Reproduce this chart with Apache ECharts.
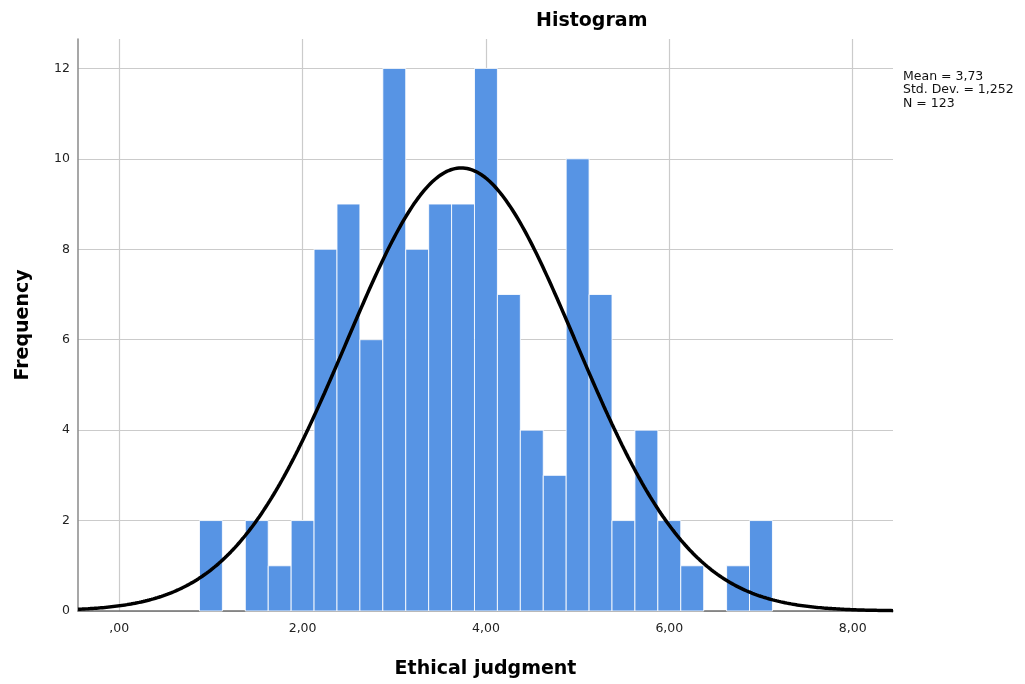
<!DOCTYPE html>
<html>
<head>
<meta charset="utf-8">
<script src="https://cdn.jsdelivr.net/npm/echarts@6/dist/echarts.min.js"></script>
<style>
html,body{margin:0;padding:0;background:#fff;}
#chart{width:1025px;height:684px;}
</style>
</head>
<body>
<div id="chart"></div>
<script>
// Bin centres (Ethical judgment), bin width 0.25
const binCenters = [1.00, 1.25, 1.50, 1.75, 2.00, 2.25, 2.50, 2.75, 3.00, 3.25, 3.50, 3.75, 4.00,
                    4.25, 4.50, 4.75, 5.00, 5.25, 5.50, 5.75, 6.00, 6.25, 6.50, 6.75, 7.00];
const frequencies = [2, 0, 2, 1, 2, 8, 9, 6, 12, 8, 9, 9, 12,
                     7, 4, 3, 10, 7, 2, 4, 2, 1, 0, 1, 2];
const binWidth = 0.25;
const xTicks = [0, 2, 4, 6, 8];
const yTicks = [0, 2, 4, 6, 8, 10, 12];
const statsLines = ['Mean = 3,73', 'Std. Dev. = 1,252', 'N = 123'];
const mean = 3.73;
const stdDev = 1.252;
const n = 123;

const X_MIN = -0.45, X_MAX = 8.44, Y_MAX = 12.65;

// Fitted normal curve (as drawn by the histogram: N * binWidth * density)
const curve = [];
for (let i = 0; i <= 400; i++) {
  const x = X_MIN + (X_MAX - X_MIN) * i / 400;
  const z = (x - mean) / stdDev;
  curve.push([x, n * binWidth * Math.exp(-0.5 * z * z) / (stdDev * Math.sqrt(2 * Math.PI))]);
}

const fmt = v => {
  const s = v.toFixed(2).replace('.', ',');
  return s.startsWith('0,') ? s.slice(1) : s;
};

const FONT = 'DejaVu Sans';
const chart = echarts.init(document.getElementById('chart'));
chart.setOption({
  animation: false,
  backgroundColor: '#ffffff',
  grid: { left: 78, top: 39, width: 815, height: 572, containLabel: false },
  xAxis: {
    type: 'value', min: X_MIN, max: X_MAX,
    name: 'Ethical judgment', nameLocation: 'middle', nameGap: 49,
    nameTextStyle: { fontFamily: FONT, fontWeight: 'bold', fontSize: 19, color: '#000' },
    axisLine: { show: true, onZero: false, lineStyle: { color: '#6f6f6f', width: 1.5 } },
    axisTick: { show: false, customValues: xTicks },
    axisLabel: { customValues: xTicks, formatter: fmt, margin: 11, fontFamily: FONT, fontSize: 12.5, color: '#222' },
    splitLine: { show: true, lineStyle: { color: '#cbcbcb', width: 1.2 } }
  },
  yAxis: {
    type: 'value', min: 0, max: Y_MAX,
    name: 'Frequency', nameLocation: 'middle', nameGap: 45, nameRotate: 90,
    nameTextStyle: { fontFamily: FONT, fontWeight: 'bold', fontSize: 19, color: '#000' },
    axisLine: { show: true, onZero: false, lineStyle: { color: '#8a8a8a', width: 1.5 } },
    axisTick: { show: false, customValues: yTicks },
    axisLabel: { customValues: yTicks, margin: 8, fontFamily: FONT, fontSize: 12.5, color: '#222' },
    splitLine: { show: true, lineStyle: { color: '#cbcbcb', width: 1.2 } }
  },
  graphic: [
    { type: 'text', left: 536, top: 12, z: 10,
      style: { text: 'Histogram', font: 'bold 19px "' + FONT + '"', fill: '#000' } },
    { type: 'text', left: 903, top: 70, z: 10,
      style: { text: statsLines.join('\n'), font: '12.5px "' + FONT + '"', lineHeight: 13.3, fill: '#111' } }
  ],
  series: [
    {
      type: 'custom',
      data: binCenters.map((c, i) => [c, frequencies[i]]),
      encode: { x: 0, y: 1 },
      renderItem: function (params, api) {
        const c = api.value(0), f = api.value(1);
        if (!f) return null;
        const p0 = api.coord([c - binWidth / 2, f]);
        const p1 = api.coord([c + binWidth / 2, 0]);
        return {
          type: 'rect',
          shape: { x: p0[0], y: p0[1], width: p1[0] - p0[0], height: p1[1] - p0[1] },
          style: { fill: '#5794e4', stroke: 'rgba(255,255,255,0.85)', lineWidth: 1 }
        };
      },
      z: 2
    },
    {
      type: 'line',
      data: curve,
      showSymbol: false,
      smooth: false,
      lineStyle: { color: '#000', width: 3.5 },
      clip: true,
      z: 3
    }
  ]
});
</script>
</body>
</html>
